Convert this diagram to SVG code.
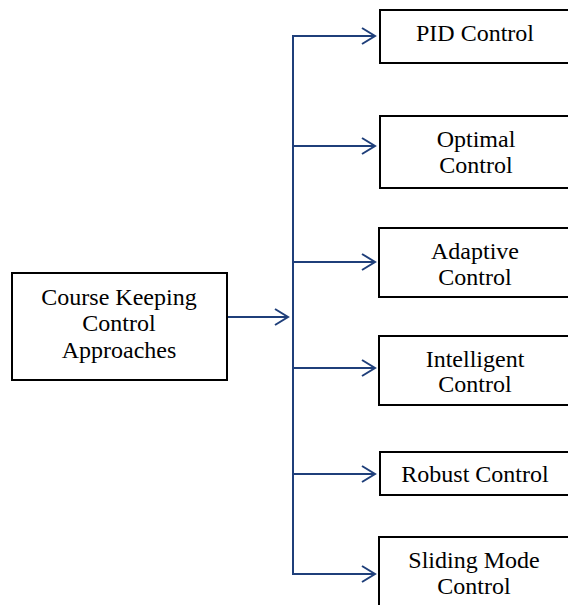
<svg xmlns="http://www.w3.org/2000/svg" width="568" height="605" viewBox="0 0 568 605">
<style>
.box{fill:#fff;stroke:#000;stroke-width:2}
.t{font-family:'Liberation Serif','DejaVu Serif',serif;font-size:24px;fill:#000;text-anchor:middle}
.c{fill:none;stroke:#1f3f7a;stroke-width:2}
</style>
<defs>
<marker id="ah" markerWidth="16" markerHeight="18" refX="14" refY="9" orient="auto" markerUnits="userSpaceOnUse">
<path d="M1,1 L14,9 L1,17" fill="none" stroke="#1f3f7a" stroke-width="2"/>
</marker>
</defs>
<rect width="568" height="605" fill="#fff"/>
<g id="connectors">
<line class="c" x1="228" y1="317" x2="288" y2="317" marker-end="url(#ah)"/>
<line class="c" x1="293" y1="35" x2="293" y2="575"/>
<line class="c" x1="292" y1="36" x2="375" y2="36" marker-end="url(#ah)"/>
<line class="c" x1="292" y1="146" x2="375" y2="146" marker-end="url(#ah)"/>
<line class="c" x1="292" y1="262" x2="375" y2="262" marker-end="url(#ah)"/>
<line class="c" x1="292" y1="368" x2="375" y2="368" marker-end="url(#ah)"/>
<line class="c" x1="292" y1="474" x2="375" y2="474" marker-end="url(#ah)"/>
<line class="c" x1="292" y1="574" x2="375" y2="574" marker-end="url(#ah)"/>
</g>
<g id="main">
<rect class="box" x="12" y="273" width="215" height="107"/>
<text class="t" x="119" y="305">Course Keeping</text>
<text class="t" x="119" y="331">Control</text>
<text class="t" x="119" y="358">Approaches</text>
</g>
<g id="pid">
<rect class="box" x="380" y="10" width="200" height="53"/>
<text class="t" x="475" y="41">PID Control</text>
</g>
<g id="optimal">
<rect class="box" x="380" y="116" width="200" height="72"/>
<text class="t" x="476" y="147">Optimal</text>
<text class="t" x="476" y="173">Control</text>
</g>
<g id="adaptive">
<rect class="box" x="379" y="228" width="200" height="69"/>
<text class="t" x="475" y="259">Adaptive</text>
<text class="t" x="475" y="285">Control</text>
</g>
<g id="intelligent">
<rect class="box" x="379" y="336" width="200" height="69"/>
<text class="t" x="475" y="367">Intelligent</text>
<text class="t" x="475" y="392">Control</text>
</g>
<g id="robust">
<rect class="box" x="380" y="452" width="200" height="43"/>
<text class="t" x="475" y="482">Robust Control</text>
</g>
<g id="sliding">
<rect class="box" x="379" y="537" width="200" height="80"/>
<text class="t" x="474" y="568">Sliding Mode</text>
<text class="t" x="474" y="594">Control</text>
</g>
</svg>
